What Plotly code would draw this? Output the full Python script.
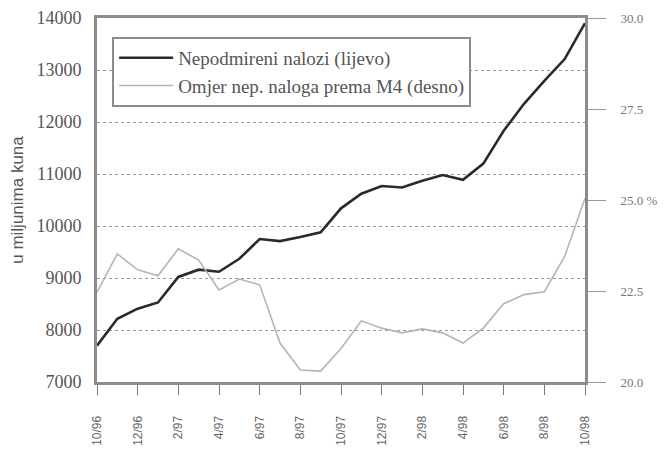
import plotly.graph_objects as go

months = ["10/96", "11/96", "12/96", "1/97", "2/97", "3/97", "4/97", "5/97", "6/97",
          "7/97", "8/97", "9/97", "10/97", "11/97", "12/97", "1/98", "2/98", "3/98",
          "4/98", "5/98", "6/98", "7/98", "8/98", "9/98", "10/98"]
tick_labels = ["10/96", "12/96", "2/97", "4/97", "6/97", "8/97", "10/97",
               "12/97", "2/98", "4/98", "6/98", "8/98", "10/98"]
nepodmireni = [7700, 8215, 8410, 8530, 9020, 9160, 9120, 9370, 9750, 9710, 9790, 9880,
               10340, 10620, 10770, 10740, 10870, 10980, 10890, 11200, 11830, 12350,
               12790, 13210, 13900]
omjer = [22.47, 23.52, 23.08, 22.92, 23.66, 23.35, 22.53, 22.83, 22.67, 21.07, 20.33, 20.3,
         20.92, 21.68, 21.48, 21.35, 21.46, 21.35, 21.07, 21.48, 22.15, 22.4, 22.48, 23.45, 25.05]
right_vals = [20, 22.5, 25, 27.5, 30]
right_text = ["20.0", "22.5", "25.0 %", "27.5", "30.0"]

serif = "Liberation Serif"
sans = "Liberation Sans Narrow, Liberation Sans, Arial"
frame = "#8c8c8c"

fig = go.Figure()
fig.add_trace(go.Scatter(x=months, y=nepodmireni, name="Nepodmireni nalozi (lijevo)",
                         mode="lines", line=dict(color="#2a2a2a", width=2.6)))
fig.add_trace(go.Scatter(x=months, y=omjer, name="Omjer nep. naloga prema M4 (desno)",
                         mode="lines", line=dict(color="#b4b4b4", width=1.6), yaxis="y2"))

fig.update_layout(
    width=662, height=443,
    margin=dict(l=89, r=85, t=10, b=69),
    paper_bgcolor="white", plot_bgcolor="white",
    showlegend=True,
    legend=dict(x=0.031, y=0.948, xanchor="left", yanchor="top",
                bgcolor="white", bordercolor="#8c8c8c", borderwidth=2,
                font=dict(family=serif, size=19, color="#555"),
                itemwidth=54, tracegroupgap=2),
    xaxis=dict(type="category", categoryorder="array", categoryarray=months,
               range=[0, 24], automargin=False,
               tickmode="array", tickvals=tick_labels, ticktext=tick_labels,
               tickangle=-90, tickfont=dict(family=sans, size=12, color="#666"),
               ticks="outside", ticklen=10, tickcolor="#777", tickwidth=1,
               ticklabelstandoff=16,
               showline=True, linecolor=frame, linewidth=3, mirror=True,
               showgrid=False, zeroline=False),
    yaxis=dict(range=[7000, 14000], dtick=1000, tick0=7000, tickformat="d",
               automargin=False,
               tickfont=dict(family=serif, size=18, color="#555"),
               showgrid=True, gridcolor="#999", griddash="dot", gridwidth=1,
               showline=True, linecolor=frame, linewidth=3, mirror=True,
               ticks="", ticklabelstandoff=9, zeroline=False,
               title=dict(text="u miljunima kuna",
                          font=dict(family="Liberation Sans, Arial", size=17, color="#555"),
                          standoff=22)),
    yaxis2=dict(range=[20, 30], overlaying="y", side="right", automargin=False,
                tickmode="array", tickvals=right_vals, ticktext=right_text,
                tickfont=dict(family=serif, size=13, color="#777"),
                ticks="outside", ticklen=18, tickcolor="#999", tickwidth=1,
                ticklabelstandoff=12,
                showgrid=False, showline=True, linecolor=frame, linewidth=3,
                zeroline=False),
)

fig.write_html("out.html")
